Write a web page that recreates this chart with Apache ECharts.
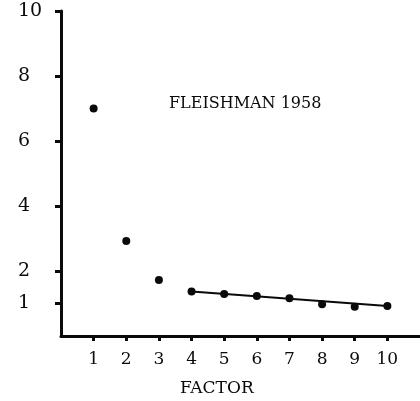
<!DOCTYPE html>
<html>
<head>
<meta charset="utf-8">
<script src="https://cdn.jsdelivr.net/npm/echarts@6/dist/echarts.min.js"></script>
<style>
  html, body { margin: 0; padding: 0; background: #fff; }
  #chart { width: 420px; height: 401px; }
</style>
</head>
<body>
<div id="chart"></div>
<script>
// Eigenvalues by factor number (scree plot)
const factors = [1, 2, 3, 4, 5, 6, 7, 8, 9, 10];
const eigenvalues = [7.0, 2.92, 1.72, 1.37, 1.29, 1.23, 1.16, 0.98, 0.9, 0.92];
// Straight line through the trailing factors
const fitFactors = [4, 10];
const fitValues = [1.37, 0.92];
// Axis tick values
const xTicks = [1, 2, 3, 4, 5, 6, 7, 8, 9, 10];
const yTicks = [1, 2, 4, 6, 8, 10];

const ink = '#0a0a0a';
const font = 'DejaVu Serif';

const chart = echarts.init(document.getElementById('chart'), null, { renderer: 'canvas' });
chart.setOption({
  animation: false,
  backgroundColor: '#fff',
  title: [
    {
      text: 'FLEISHMAN 1958',
      left: 164, top: 91,
      textStyle: { fontFamily: font, fontWeight: 'normal', fontSize: 16, color: ink }
    },
    {
      text: 'FACTOR',
      left: 175, top: 375,
      textStyle: { fontFamily: font, fontWeight: 'normal', fontSize: 17, color: ink }
    }
  ],
  grid: { left: 61, right: 0, top: 11, bottom: 65, containLabel: false },
  xAxis: {
    type: 'value',
    min: 0, max: 11,
    splitLine: { show: false },
    axisLine: { lineStyle: { color: ink, width: 3 } },
    axisTick: { customValues: xTicks, length: 5, lineStyle: { color: ink, width: 3 } },
    axisLabel: {
      customValues: xTicks, margin: 15,
      fontFamily: font, fontSize: 17, color: ink
    }
  },
  yAxis: {
    type: 'value',
    min: 0, max: 10,
    splitLine: { show: false },
    axisLine: { show: true, lineStyle: { color: ink, width: 3 } },
    axisTick: { show: true, customValues: yTicks, length: 6, lineStyle: { color: ink, width: 3 } },
    axisLabel: {
      customValues: yTicks, margin: 43, align: 'left',
      fontFamily: font, fontSize: 19, color: ink
    }
  },
  series: [
    {
      type: 'scatter',
      data: factors.map((f, i) => [f, eigenvalues[i]]),
      symbol: 'circle',
      symbolSize: 8,
      itemStyle: { color: ink, opacity: 1 },
      z: 3
    },
    {
      type: 'line',
      data: fitFactors.map((f, i) => [f, fitValues[i]]),
      symbol: 'none',
      lineStyle: { color: ink, width: 2 },
      z: 2
    }
  ]
});
</script>
</body>
</html>
